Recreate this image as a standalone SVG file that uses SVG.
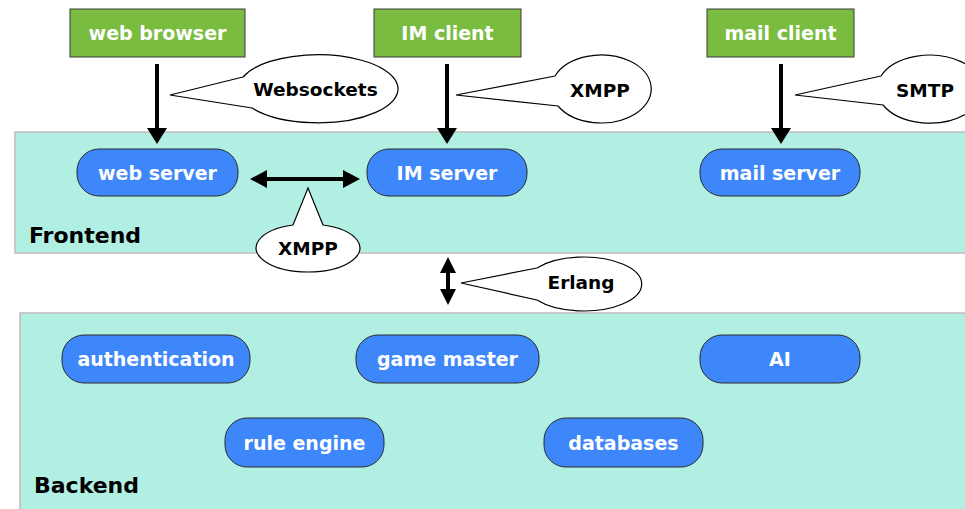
<svg xmlns="http://www.w3.org/2000/svg" width="965" height="509" viewBox="0 0 965 509">
<style>
.panel{fill:#b2efe3;stroke:#bdbdbd;stroke-width:1.5}
.client{fill:#79bc3f;stroke:#3a3a3a;stroke-width:1}
.server{fill:#3e87fa;stroke:#2a2a2a;stroke-width:1}
.nl{font-family:"DejaVu Sans",Verdana,sans-serif;font-weight:bold;font-size:19px;fill:#ffffff;text-anchor:middle}
.bl{font-family:"DejaVu Sans",Verdana,sans-serif;font-weight:bold;font-size:18.5px;fill:#000000;text-anchor:middle}
.pl{font-family:"DejaVu Sans",Verdana,sans-serif;font-weight:bold;font-size:22px;fill:#000000}
.balloon{fill:#ffffff;stroke:#000000;stroke-width:1.2}
.conn{stroke:#000000;stroke-width:4;fill:none}
.head{fill:#000000}
</style>
<g id="frontend-panel"><rect class="panel" x="15" y="132" width="960" height="121"/><text class="pl" x="29" y="243">Frontend</text></g>
<g id="backend-panel"><rect class="panel" x="20" y="313" width="960" height="210"/><text class="pl" x="34" y="493">Backend</text></g>

<g id="web-browser"><rect class="client" x="70" y="9" width="175" height="48"/><text class="nl" x="157.5" y="40">web browser</text></g>
<g id="im-client"><rect class="client" x="374" y="9" width="147" height="48"/><text class="nl" x="447.5" y="40">IM client</text></g>
<g id="mail-client"><rect class="client" x="707" y="9" width="147" height="48"/><text class="nl" x="780.5" y="40">mail client</text></g>

<g id="web-server"><rect class="server" x="77" y="149" width="161" height="47" rx="22" ry="22"/><text class="nl" x="157.5" y="179.5">web server</text></g>
<g id="im-server"><rect class="server" x="367" y="149" width="160" height="47" rx="22" ry="22"/><text class="nl" x="447" y="179.5">IM server</text></g>
<g id="mail-server"><rect class="server" x="700" y="149" width="160" height="47" rx="22" ry="22"/><text class="nl" x="780" y="179.5">mail server</text></g>

<g id="authentication"><rect class="server" x="62" y="335" width="188" height="48" rx="22" ry="22"/><text class="nl" x="156" y="366">authentication</text></g>
<g id="game-master"><rect class="server" x="356" y="335" width="183" height="48" rx="22" ry="22"/><text class="nl" x="447.5" y="366">game master</text></g>
<g id="ai"><rect class="server" x="700" y="335" width="160" height="48" rx="22" ry="22"/><text class="nl" x="780" y="366">AI</text></g>
<g id="rule-engine"><rect class="server" x="225" y="418" width="159" height="49" rx="22" ry="22"/><text class="nl" x="304.5" y="449.5">rule engine</text></g>
<g id="databases"><rect class="server" x="544" y="418" width="159" height="49" rx="22" ry="22"/><text class="nl" x="623.5" y="449.5">databases</text></g>

<g id="connectors">
  <line class="conn" x1="157" y1="64" x2="157" y2="130"/>
  <polygon class="head" points="147,128 167,128 157,144"/>
  <line class="conn" x1="447" y1="64" x2="447" y2="130"/>
  <polygon class="head" points="437,128 457,128 447,144"/>
  <line class="conn" x1="781" y1="64" x2="781" y2="130"/>
  <polygon class="head" points="771,128 791,128 781,144"/>
  <line class="conn" x1="264" y1="179" x2="346" y2="179"/>
  <polygon class="head" points="250,179 267,170 267,188"/>
  <polygon class="head" points="360,179 343,170 343,188"/>
  <line class="conn" x1="448" y1="270" x2="448" y2="292"/>
  <polygon class="head" points="448,257 440,273 456,273"/>
  <polygon class="head" points="448,305 440,289 456,289"/>
</g>

<g id="label-websockets"><path class="balloon" d="M243,77 L170,95 L252,108 A80 34 0 1 0 243,77 Z"/><text class="bl" x="315.5" y="96">Websockets</text></g>
<g id="label-xmpp-client"><path class="balloon" d="M555,76 L456,95 L558,106 A50 34 0 1 0 555,76 Z"/><text class="bl" x="600" y="97">XMPP</text></g>
<g id="label-smtp"><path class="balloon" d="M881,76 L795,95 L883,105 A53 34 0 1 0 881,76 Z"/><text class="bl" x="925" y="97">SMTP</text></g>
<g id="label-xmpp-server"><path class="balloon" d="M323,225 L308,188 L293,225 A52 24 0 1 0 323,225 Z"/><text class="bl" x="308" y="255">XMPP</text></g>
<g id="label-erlang"><path class="balloon" d="M537,268 L461,283 L537,300 A58 27 0 1 0 537,268 Z"/><text class="bl" x="581" y="289">Erlang</text></g>
</svg>
